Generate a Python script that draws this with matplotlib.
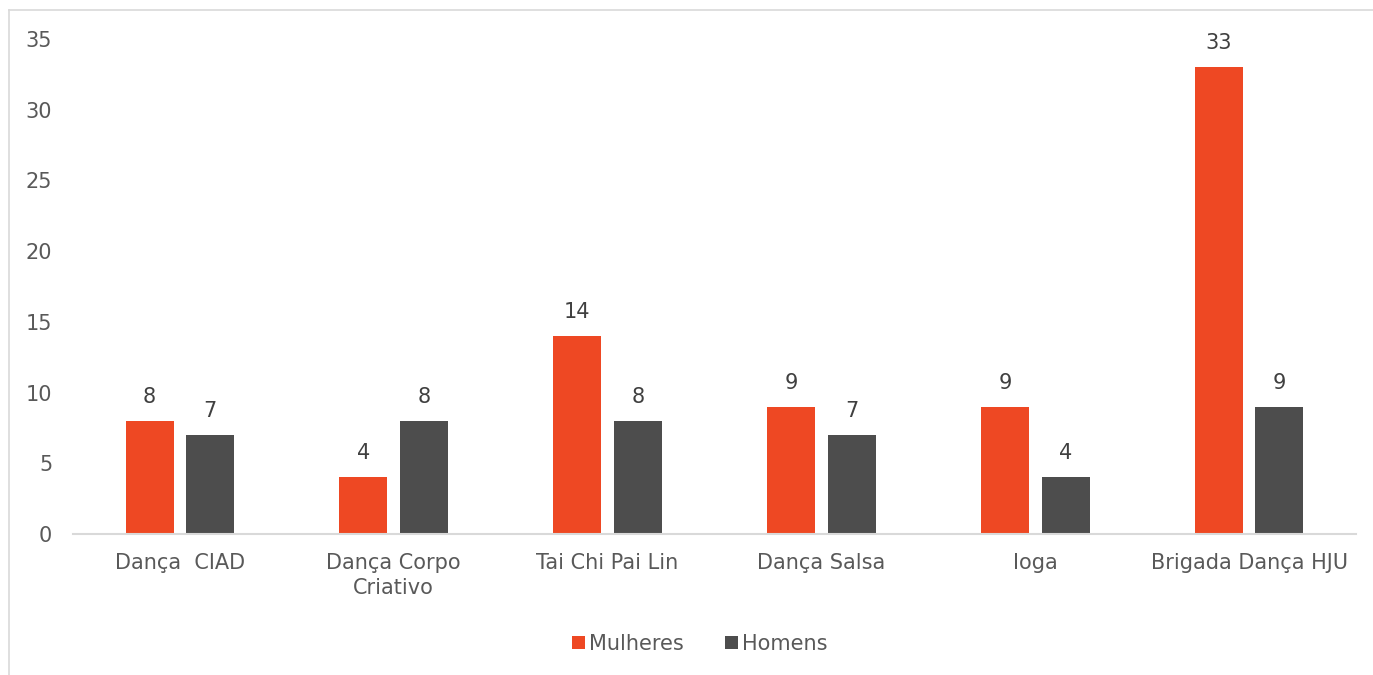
import matplotlib
matplotlib.use("Agg")
import matplotlib.pyplot as plt
from matplotlib.lines import Line2D
import numpy as np

categories = ["Dança  CIAD", "Dança Corpo\nCriativo", "Tai Chi Pai Lin", "Dança Salsa", "Ioga", "Brigada Dança HJU"]
mulheres = [8, 4, 14, 9, 9, 33]
homens = [7, 8, 8, 7, 4, 9]
series_names = ["Mulheres", "Homens"]
yticks = [0, 5, 10, 15, 20, 25, 30, 35]

c_orange = "#EE4823"
c_gray = "#4D4D4D"
txt = "#595959"
lbl = "#404040"

plt.rcParams['font.family'] = ['DejaVu Sans']
W, H = 1373, 675
fig = plt.figure(figsize=(W/100, H/100), dpi=100)
ax = fig.add_axes([73/W, 1-534/H, (1356-73)/W, (534-39)/H])

x = np.arange(len(categories))
bw = 0.224
off = 0.142
b1 = ax.bar(x - off, mulheres, bw, color=c_orange, label=series_names[0])
b2 = ax.bar(x + off, homens, bw, color=c_gray, label=series_names[1])
for bars in (b1, b2):
    for r in bars:
        ax.text(r.get_x() + r.get_width()/2, r.get_height() + 1.0, f"{int(r.get_height())}",
                ha="center", va="bottom", fontsize=15, color=lbl)

ax.set_xlim(-0.5, len(categories) - 0.5)
ax.set_ylim(0, 35)
ax.set_yticks(yticks)
ax.set_xticks(x)
ax.set_xticklabels(categories, fontsize=15, color=txt, linespacing=1.3)
ax.tick_params(axis='y', length=0, labelsize=15, labelcolor=txt, pad=15)
ax.tick_params(axis='x', length=0, pad=14)
for s in ["top", "right", "left"]:
    ax.spines[s].set_visible(False)
ax.spines["bottom"].set_color("#D9D9D9")
ax.spines["bottom"].set_linewidth(1.5)

leg = fig.legend(loc="center", bbox_to_anchor=(700/W, 1-644/H), ncol=2, frameon=False,
                 fontsize=15, handlelength=0.6, handleheight=0.6, handletextpad=0.2,
                 columnspacing=2.0)
for t in leg.get_texts():
    t.set_color(txt)

fig.add_artist(Line2D([9/W, 9/W], [0, 1-10/H], color="#D9D9D9", lw=1.2))
fig.add_artist(Line2D([9/W, 1], [1-10/H, 1-10/H], color="#D9D9D9", lw=1.2))

fig.savefig("out.png", dpi=100)
